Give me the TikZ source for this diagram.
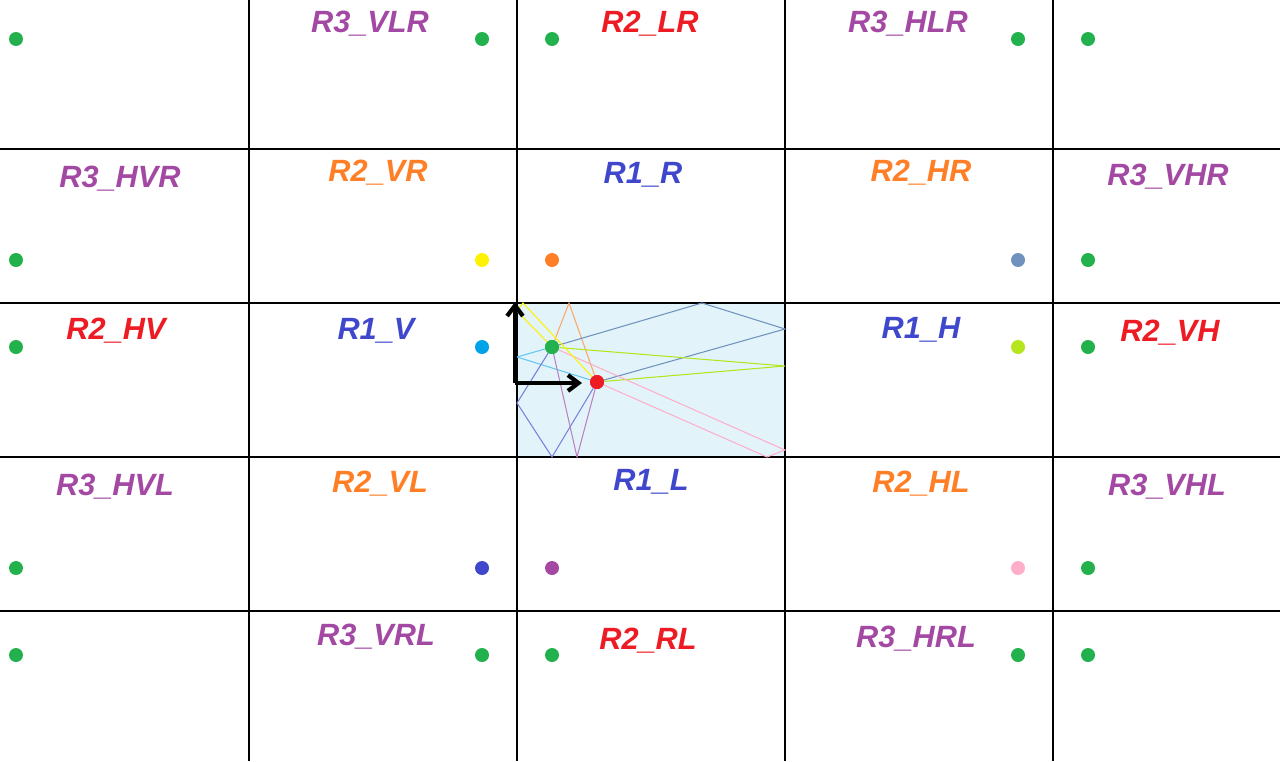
\documentclass[tikz,border=0pt]{standalone}
\usepackage{fontspec}
\setmainfont{Liberation Sans}
\usetikzlibrary{arrows.meta}
\tikzset{>={Straight Barb[length=6pt,width=9pt]}}
\definecolor{pgreen}{RGB}{34,177,76}
\definecolor{pred}{RGB}{237,28,36}
\definecolor{porange}{RGB}{255,127,39}
\definecolor{pblue}{RGB}{63,72,204}
\definecolor{ppurple}{RGB}{163,73,164}
\definecolor{pyellow}{RGB}{255,242,0}
\definecolor{pcyan}{RGB}{0,162,232}
\definecolor{plime}{RGB}{181,230,29}
\definecolor{ppink}{RGB}{255,174,201}
\definecolor{pslate}{RGB}{112,146,190}
\definecolor{proom}{RGB}{226,244,250}
\tikzset{
    dot/.style={circle, inner sep=0pt, minimum size=0.28cm},
    lab/.style={font=\fontsize{17.5}{20}\selectfont\bfseries\itshape},
    ray/.style={line width=0.6pt}
}
\begin{document}
\begin{tikzpicture}[x=0.02cm, y=-0.02cm]
    \useasboundingbox(0, 0)rectangle(1280, 761);
    \fill[proom](517, 303)rectangle(785, 457);
    \foreach \x in {249, 517, 785, 1053}
        \draw[line width=0.8pt](\x, 0)--(\x, 761);
    \foreach \y in {149, 303, 457, 611}
        \draw[line width=0.8pt](0, \y)--(1280, \y);
    % source and receiver
    \node[dot, fill=pgreen](src) at (552, 347){};
    \node[dot, fill=pred](rcv) at (597, 382){};
    % reflection points
    \coordinate(pO) at (569, 303);
    \coordinate(pC) at (517, 357);
    \coordinate(pB1) at (517, 403);
    \coordinate(pB2) at (552, 457);
    \coordinate(pP) at (577, 457);
    \coordinate(pS1) at (702, 303);
    \coordinate(pS2) at (785, 329);
    \coordinate(pL) at (785, 366);
    \coordinate(pK1) at (785, 450);
    \coordinate(pK2) at (767, 457);
    \coordinate(pY1) at (517, 311);
    \coordinate(pY2) at (523, 303);
    \draw[ray, porange!70](src)--(pO)--(rcv);
    \draw[ray, pcyan!60](src)--(pC)--(rcv);
    \draw[ray, pblue!70](src)--(pB1)--(pB2)--(rcv);
    \draw[ray, ppurple!70](src)--(pP)--(rcv);
    \draw[ray, pslate](src)--(pS1)--(pS2)--(rcv);
    \draw[ray, plime](src)--(pL)--(rcv);
    \draw[ray, ppink](src)--(pK1)--(pK2)--(rcv);
    \draw[ray, pyellow](src)--(pY1)--(pY2)--(rcv);
    \node[dot, fill=pgreen] at (src){};
    \node[dot, fill=pred] at (rcv){};
    % axes
    \coordinate(o) at (515, 383);
    \coordinate(ax) at (582, 383);
    \coordinate(ay) at (515, 302);
    \draw[->, line width=2.4pt](o)--(ax);
    \draw[->, line width=2.4pt](o)--(ay);
    % image sources
    \foreach \x/\y/\c [count=\i] in {16/39/pgreen, 482/39/pgreen, 552/39/pgreen, 1018/39/pgreen, 1088/39/pgreen,
        16/260/pgreen, 482/260/pyellow, 552/260/porange, 1018/260/pslate, 1088/260/pgreen,
        16/347/pgreen, 482/347/pcyan, 1018/347/plime, 1088/347/pgreen,
        16/568/pgreen, 482/568/pblue, 552/568/ppurple, 1018/568/ppink, 1088/568/pgreen,
        16/655/pgreen, 482/655/pgreen, 552/655/pgreen, 1018/655/pgreen, 1088/655/pgreen}
        \node[dot, fill=\c](img\i) at (\x, \y){};
    % labels
    \node[lab, ppurple](vlr) at (370, 24){R3\_VLR};
    \node[lab, pred](lr) at (650, 24){R2\_LR};
    \node[lab, ppurple](hlr) at (908, 24){R3\_HLR};
    \node[lab, ppurple](hvr) at (120, 179){R3\_HVR};
    \node[lab, porange](vr) at (378, 173){R2\_VR};
    \node[lab, pblue](r) at (643, 175){R1\_R};
    \node[lab, porange](hr) at (921, 173){R2\_HR};
    \node[lab, ppurple](vhr) at (1168, 177){R3\_VHR};
    \node[lab, pred](hv) at (116, 331){R2\_HV};
    \node[lab, pblue](v) at (376, 331){R1\_V};
    \node[lab, pblue](h) at (921, 330){R1\_H};
    \node[lab, pred](vh) at (1170, 333){R2\_VH};
    \node[lab, ppurple](hvl) at (115, 487){R3\_HVL};
    \node[lab, porange](vl) at (380, 484){R2\_VL};
    \node[lab, pblue](l) at (651, 482){R1\_L};
    \node[lab, porange](hl) at (921, 484){R2\_HL};
    \node[lab, ppurple](vhl) at (1167, 487){R3\_VHL};
    \node[lab, ppurple](vrl) at (376, 637){R3\_VRL};
    \node[lab, pred](rl) at (648, 641){R2\_RL};
    \node[lab, ppurple](hrl) at (916, 639){R3\_HRL};
\end{tikzpicture}
\end{document}
